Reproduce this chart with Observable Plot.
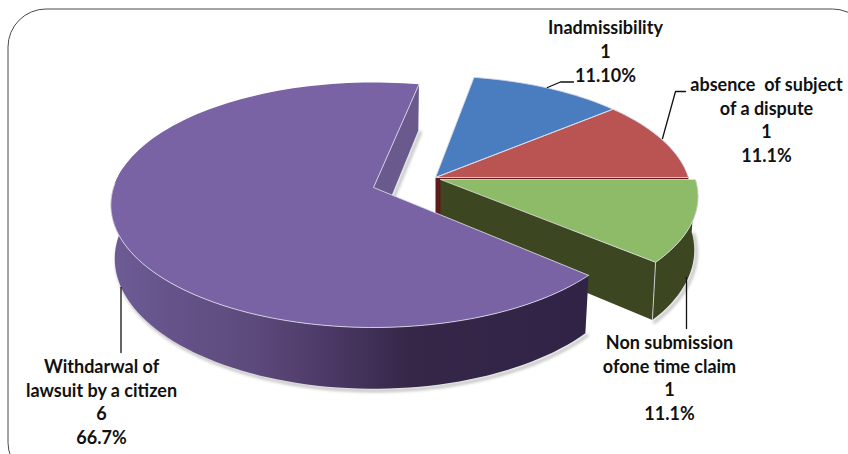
<!DOCTYPE html>
<html>
<head>
<meta charset="utf-8">
<script src="https://cdn.jsdelivr.net/npm/d3@7"></script>
<script src="https://cdn.jsdelivr.net/npm/@observablehq/plot@0.6"></script>
<style>
html,body{margin:0;padding:0;background:#fff;overflow:hidden}
svg text{white-space:pre}
</style>
</head>
<body>
<div id="chart"></div>
<script>
// Data
const names = ["Inadmissibility", "absence  of subject\nof a dispute", "Non submission\nofone time claim", "Withdarwal of\nlawsuit by a citizen"];
const counts = [1, 1, 1, 6];
const shares = ["11.10%", "11.1%", "11.1%", "66.7%"];

// Styling
const topFills = ["#4a7dbf", "#b95453", "#8dbb67", "#7a63a5"];
const wallFills = ["#2c4a72", "#5e1b1c", "#3c4621", "#6a598d"];

// 3D pie projection (per slice: pull-out point and projected radii)
const firstAngle = -80, tilt = 1 / 7, depth = 52.5, taper = 0.015;
const apexX = [435, 435, 440, 373];
const apexY = [177, 177, 179, 187];
const radX = [253, 253, 255, 260];
const radY = [116, 116, 117, 120];
const spin = [0, 0, 0, 1.5];

const total = d3.sum(counts);
const spans = [];
counts.reduce((acc, c, i) => {
  spans[i] = [firstAngle + 360 * acc / total + spin[i], firstAngle + 360 * (acc + c) / total + spin[i]];
  return acc + c;
}, 0);

const project = (i, deg, z = 0) => {
  const t = deg * Math.PI / 180, X = Math.cos(t), Y = Math.sin(t), w = 1 - tilt * Y;
  return {
    x: apexX[i] + radX[i] * X / w * (1 - taper * z),
    y: apexY[i] + (radY[i] * Y + depth * z) / w
  };
};
const arc = (i, a, b, z = 0) => {
  const n = Math.max(2, Math.ceil(Math.abs(b - a) / 2));
  return d3.range(n + 1).map(k => project(i, a + (b - a) * k / n, z));
};
const apex = (i, z = 0) => ({x: apexX[i], y: apexY[i] + depth * z});

const topFace = i => [apex(i), ...arc(i, spans[i][0], spans[i][1]), apex(i)];
const sideFace = (i, deg) => [apex(i), project(i, deg), project(i, deg, 1), apex(i, 1), apex(i)];
const rimFace = (i, a, b) => [...arc(i, a, b), ...arc(i, b, a, 1)];

const poly = (pts, fill, extra = {}) => Plot.line(pts, {x: "x", y: "y", fill, stroke: "none", curve: "linear", ...extra});
const edge = (pts, extra = {}) => Plot.line(pts, {x: "x", y: "y", stroke: "#dcdce6", strokeWidth: 1, strokeOpacity: 0.85, curve: "linear", ...extra});
const shadow = (pts) => Plot.line(pts, {x: "x", y: "y", stroke: "#8a8a8a", strokeWidth: 3, strokeOpacity: 0.55, dx: 2, dy: 2, imageFilter: "blur(1.5px)", curve: "linear"});

const B = 0, R = 1, G = 2, P = 3;
const pEnd = spans[P][1], pStart = spans[P][0];

// Callouts
const labels = names.map((n, i) => `${n}\n${counts[i]}\n${shares[i]}`);
const labelX = [605, 766, 669, 101];
const labelY = [50, 118.5, 376.5, 400.5];
const leaders = [
  [{x: 547, y: 87}, {x: 560, y: 81.5}, {x: 573, y: 81.5}],
  [{x: 662, y: 138}, {x: 675, y: 91}, {x: 685, y: 91}],
  [{x: 686, y: 277}, {x: 686, y: 328}],
  [{x: 120.5, y: 287}, {x: 120.5, y: 352}]
];

const gradient = () => {
  const defs = d3.create("svg:defs");
  const g = defs.append("linearGradient").attr("id", "purpleWall")
    .attr("gradientUnits", "userSpaceOnUse")
    .attr("x1", 110).attr("x2", 590).attr("y1", 0).attr("y2", 0);
  [[0, "#6e5c97"], [0.12, "#65538a"], [0.3, "#5d4a7c"], [0.45, "#4c3966"], [0.62, "#362749"], [1, "#302345"]]
    .forEach(([o, c]) => g.append("stop").attr("offset", o).attr("stop-color", c));
  return defs.node();
};

const chart = Plot.plot({
  width: 848,
  height: 454,
  margin: 0,
  x: {domain: [0, 848], axis: null},
  y: {domain: [0, 454], axis: null, reverse: true},
  style: {background: "#fff", overflow: "hidden"},
  marks: [
    gradient,
    Plot.frame({stroke: "#4a4a4a", strokeWidth: 1, rx: 38, insetLeft: 7.5, insetTop: 8.5, insetRight: -22, insetBottom: -26}),

    // purple's inner wall, behind everything
    shadow([project(P, pEnd, 1), apex(P, 1)]),
    poly(sideFace(P, pEnd), wallFills[P]),

    // blue and red tops
    poly(topFace(B), topFills[B]),
    poly(topFace(R), topFills[R]),
    poly(sideFace(R, spans[R][1]), wallFills[R]),

    // green block
    shadow(arc(G, spans[G][0], spans[G][1], 1)),
    poly(sideFace(G, spans[G][1]), wallFills[G]),
    poly(rimFace(G, spans[G][0], spans[G][1]), wallFills[G]),
    edge([project(G, spans[G][1]), project(G, spans[G][1], 1)]),
    poly(topFace(G), topFills[G]),

    edge(topFace(B)),
    edge(topFace(R)),
    edge(topFace(G)),

    // purple block
    shadow(arc(P, pStart, 178, 1)),
    poly(rimFace(P, pStart, 190), "url(#purpleWall)"),
    poly(topFace(P), topFills[P]),
    edge(arc(P, pStart, 182)),
    edge([project(P, pEnd), apex(P), project(P, pStart)]),

    // callouts
    ...leaders.map(l => Plot.line(l, {x: "x", y: "y", stroke: "#111", strokeWidth: 1.3, curve: "linear"})),
    Plot.text(labels, {
      x: (d, i) => labelX[i],
      y: (d, i) => labelY[i],
      text: d => d,
      fontFamily: "Lato",
      fontWeight: 700,
      fontSize: 18,
      lineHeight: 1.32,
      fill: "#111",
      lineAnchor: "middle",
      textAnchor: "middle"
    })
  ]
});
document.getElementById("chart").append(chart);
</script>
</body>
</html>
